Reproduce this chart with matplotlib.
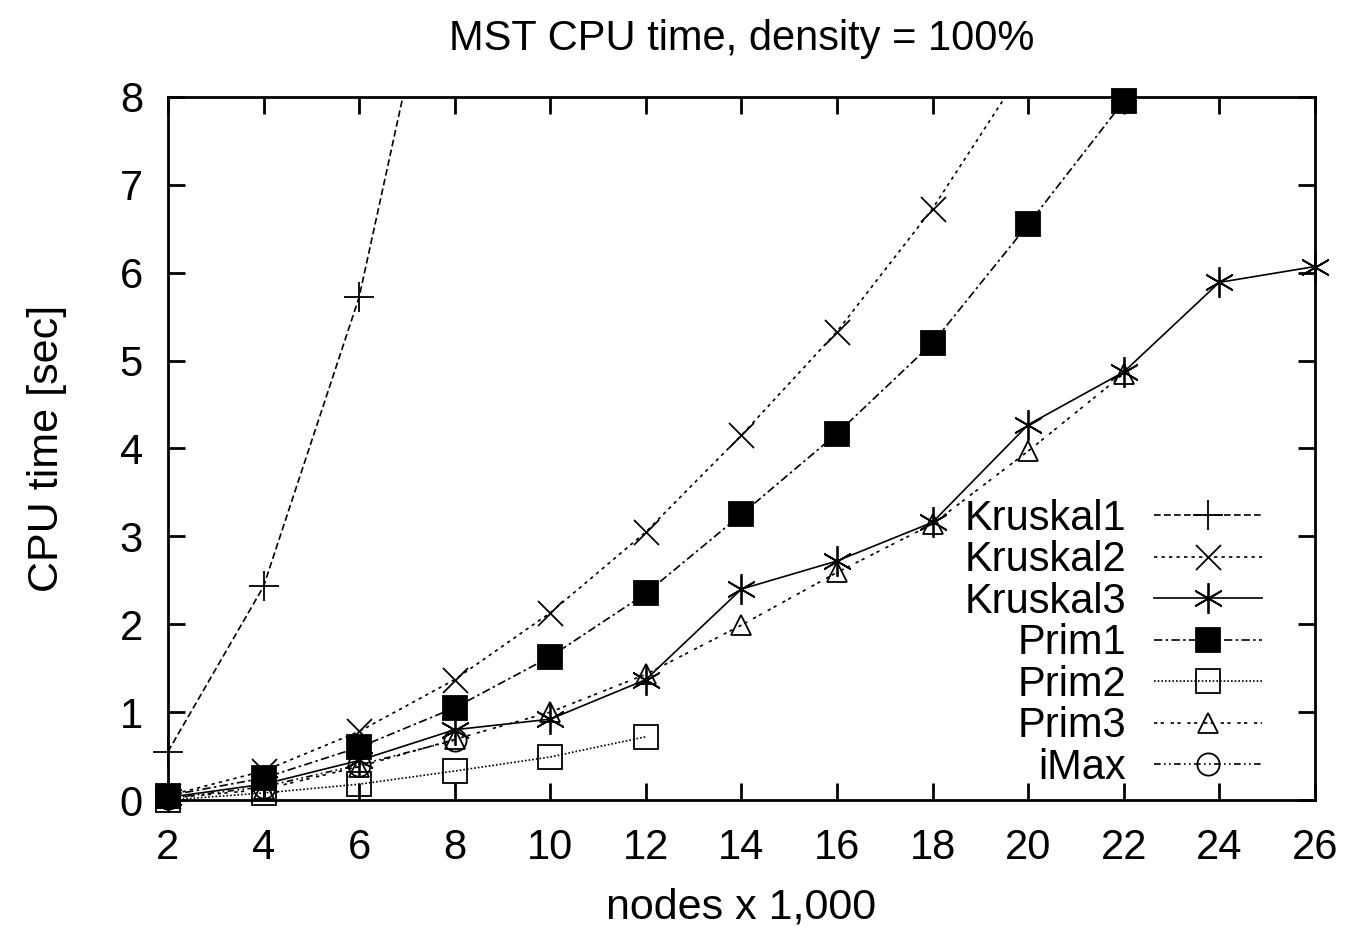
import numpy as np
import matplotlib.pyplot as plt
from matplotlib.lines import Line2D

plt.rcParams['font.family'] = ['Liberation Sans', 'DejaVu Sans']

# data (nodes x 1,000 -> CPU time, sec)
x_k1 = [2, 4, 6, 8]
y_k1 = [0.55, 2.43, 5.72, 10.7]
x_k2 = [2, 4, 6, 8, 10, 12, 14, 16, 18, 20]
y_k2 = [0.05, 0.33, 0.78, 1.37, 2.13, 3.05, 4.15, 5.33, 6.73, 8.4]
x_k3 = [2, 4, 6, 8, 10, 12, 14, 16, 18, 20, 22, 24, 26]
y_k3 = [0.03, 0.18, 0.45, 0.8, 0.92, 1.37, 2.4, 2.72, 3.16, 4.27, 4.87, 5.89, 6.07]
x_p1 = [2, 4, 6, 8, 10, 12, 14, 16, 18, 20, 22]
y_p1 = [0.05, 0.25, 0.6, 1.05, 1.63, 2.35, 3.25, 4.17, 5.2, 6.55, 7.95]
x_p2 = [2, 4, 6, 8, 10, 12]
y_p2 = [0.0, 0.08, 0.18, 0.33, 0.49, 0.72]
x_p3 = [2, 4, 6, 8, 10, 12, 14, 16, 18, 20, 22]
y_p3 = [0.02, 0.12, 0.38, 0.69, 1.0, 1.43, 1.99, 2.59, 3.14, 3.97, 4.85]
x_im = [2, 4, 6, 8]
y_im = [0.02, 0.15, 0.4, 0.68]

series = [
    ('Kruskal1', x_k1, y_k1, (0, (4, 2)), '+', 'none', 22),
    ('Kruskal2', x_k2, y_k2, (0, (2, 2.5)), 'x', 'none', 18),
    ('Kruskal3', x_k3, y_k3, '-', (6, 2, 0), 'none', 22),
    ('Prim1', x_p1, y_p1, (0, (5, 2, 1.5, 2)), 's', 'black', 17),
    ('Prim2', x_p2, y_p2, (0, (1, 1.2)), 's', 'none', 17),
    ('Prim3', x_p3, y_p3, (0, (2, 2, 2, 4)), '^', 'none', 15),
    ('iMax', x_im, y_im, (0, (4, 2, 1, 2, 1, 2)), 'o', 'none', 16),
]

fig = plt.figure(figsize=(13.61, 9.32), dpi=100)
ax = fig.add_axes([0.1234, 0.1416, 0.8427, 0.7544])

handles = []
for name, xs, ys, ls, mk, fc, ms in series:
    ax.plot(xs, ys, color='black', lw=1.2, linestyle=ls)
    xs = np.array(xs); ys = np.array(ys)
    keep = ys <= 8
    ax.plot(xs[keep], ys[keep], linestyle='none', marker=mk, ms=ms,
            mfc=fc, mec='black', mew=1.3, clip_on=False, zorder=3)
    handles.append(Line2D([], [], color='black', lw=1.2, linestyle=ls,
                          marker=mk, ms=ms, mfc=fc, mec='black', mew=1.3))

ax.set_xlim(2, 26)
ax.set_ylim(0, 8)
ax.set_xticks(range(2, 27, 2))
ax.set_yticks(range(0, 9))
ax.tick_params(direction='in', length=12, width=2, labelsize=30,
               top=True, right=True)
ax.tick_params(axis='x', pad=20)
ax.tick_params(axis='y', pad=18)
for s in ax.spines.values():
    s.set_linewidth(2)

ax.set_title('MST CPU time, density = 100%', fontsize=30, pad=34)
ax.set_xlabel('nodes x 1,000', fontsize=31, labelpad=14)
ax.set_ylabel('CPU time [sec]', fontsize=31, labelpad=38)

ax.legend(handles, [s[0] for s in series], loc='lower right',
          bbox_to_anchor=(0.972, -0.012), frameon=False, markerfirst=False,
          fontsize=30, handlelength=2.6, labelspacing=0.035,
          handletextpad=0.65, borderaxespad=0.1)

fig.savefig('out.png', dpi=100)
